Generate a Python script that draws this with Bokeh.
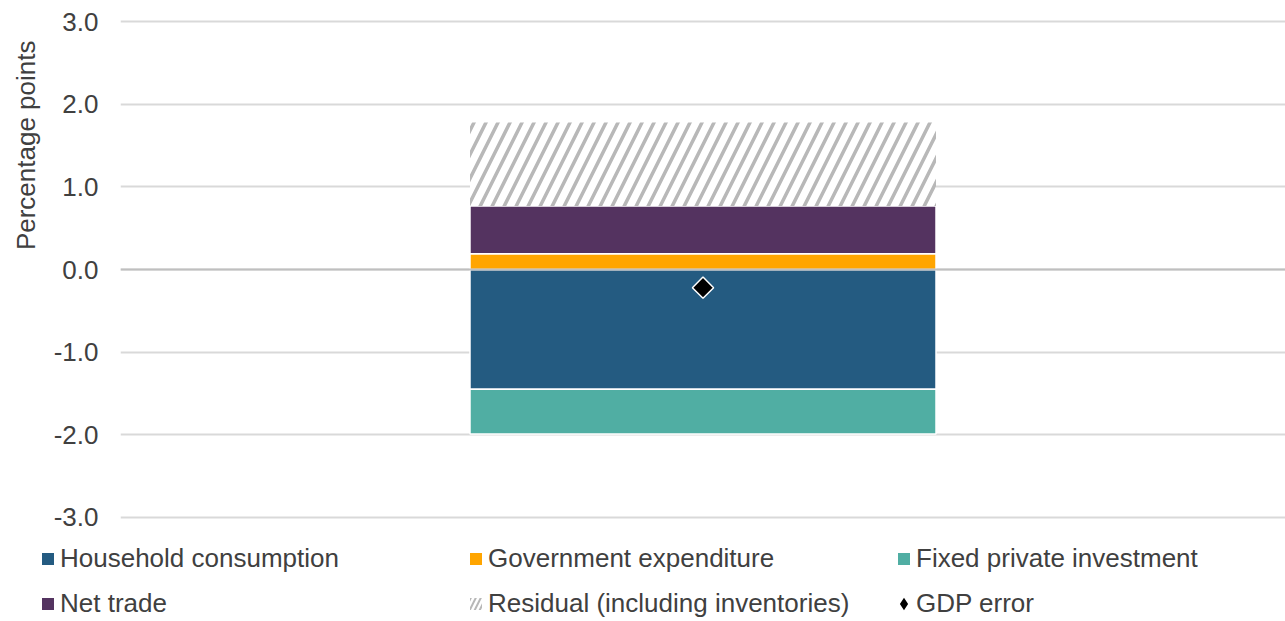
import math
from bokeh.plotting import figure
from bokeh.layouts import column
from bokeh.models import (Range1d, FactorRange, Legend, LegendItem, FixedTicker,
                          NumeralTickFormatter, Span, Title)
from bokeh.embed import file_html
from bokeh.resources import INLINE

# ---- data ----
category = ["Q"]
household = [-1.45]
government = [0.19]
fixed_investment = [-0.54]
net_trade = [0.58]
residual = [1.01]
gdp_error = [-0.22]
y_ticks = [-3, -2, -1, 0, 1, 2, 3]

FONT = "Liberation Sans"
TXT = "#404040"
C_HH = "#245b81"
C_FX = "#50aea3"
C_GOV = "#ffa500"
C_NET = "#543360"
C_HATCH = "#b8b8b8"

p = figure(width=1285, height=540,
           x_range=FactorRange(factors=category, range_padding=0),
           y_range=Range1d(-3.05, 3.05),
           output_backend="svg", toolbar_location=None,
           min_border_left=120, min_border_right=0,
           min_border_top=17, min_border_bottom=19)
p.outline_line_color = None
p.frame_align = False

# stacks
gov_b = [0.0]
gov_t = [government[0]]
net_b = gov_t
net_t = [government[0] + net_trade[0]]
res_b = net_t
res_t = [net_t[0] + residual[0]]
hh_b = [0.0]
hh_t = [household[0]]
fx_b = hh_t
fx_t = [household[0] + fixed_investment[0]]

W = 0.4
p.vbar(x=category, bottom=hh_b, top=hh_t, width=W, fill_color=C_HH,
       line_color="white", line_width=1.5)
p.vbar(x=category, bottom=fx_b, top=fx_t, width=W, fill_color=C_FX,
       line_color="white", line_width=1.5)
p.vbar(x=category, bottom=gov_b, top=gov_t, width=W, fill_color=C_GOV,
       line_color="white", line_width=1.5)
p.vbar(x=category, bottom=net_b, top=net_t, width=W, fill_color=C_NET,
       line_color="white", line_width=1.5)
p.vbar(x=category, bottom=res_b, top=res_t, width=W, line_color=None,
       fill_color="white", hatch_pattern="/", hatch_color=C_HATCH,
       hatch_weight=3.5, hatch_scale=24)

p.add_layout(Span(location=0, dimension="width", line_color="#bfbfbf", line_width=2))

p.scatter(x=category, y=gdp_error, marker="square", size=15, angle=math.pi / 4,
          fill_color="black", line_color="white", line_width=1.5)

# axes / grid
p.xaxis.visible = False
p.xgrid.grid_line_color = None
p.ygrid.grid_line_color = "#d9d9d9"
p.ygrid.grid_line_width = 2
ax = p.yaxis[0]
ax.ticker = FixedTicker(ticks=y_ticks)
ax.formatter = NumeralTickFormatter(format="0.0")
ax.axis_line_color = None
ax.major_tick_line_color = None
ax.minor_tick_line_color = None
ax.major_label_standoff = 16
ax.major_label_text_font = FONT
ax.major_label_text_font_size = "26px"
ax.major_label_text_color = TXT

ytitle = Title(text="Percentage points", align="right", offset=23, standoff=18,
               vertical_align="middle",
               text_font=FONT, text_font_size="26px", text_font_style="normal",
               text_color=TXT)
p.add_layout(ytitle, "left")

# ---- legend (separate strip below the chart) ----
lg = figure(width=1285, height=81, x_range=Range1d(0, 1), y_range=Range1d(0, 1),
            output_backend="svg", toolbar_location=None,
            min_border_left=0, min_border_right=0, min_border_top=0, min_border_bottom=0)
lg.outline_line_color = None
lg.frame_align = False
lg.axis.visible = False
lg.grid.visible = False
z = [0]
l_hh = lg.vbar(x=z, top=z, width=0, fill_color=C_HH, line_color=None, visible=False)
l_gov = lg.vbar(x=z, top=z, width=0, fill_color=C_GOV, line_color=None, visible=False)
l_fx = lg.vbar(x=z, top=z, width=0, fill_color=C_FX, line_color=None, visible=False)
l_net = lg.vbar(x=z, top=z, width=0, fill_color=C_NET, line_color=None, visible=False)
l_res = lg.vbar(x=z, top=z, width=0, line_color=None, visible=False,
                fill_color="white", hatch_pattern="/", hatch_color=C_HATCH,
                hatch_weight=2, hatch_scale=10)
l_gdp = lg.scatter(x=z, y=z, marker="diamond", size=0,
                   fill_color="black", line_color="black", line_width=3.5,
                   line_join="miter", visible=False)

legend = Legend(items=[
    LegendItem(label="Household consumption", renderers=[l_hh]),
    LegendItem(label="Government expenditure", renderers=[l_gov]),
    LegendItem(label="Fixed private investment", renderers=[l_fx]),
    LegendItem(label="Net trade", renderers=[l_net]),
    LegendItem(label="Residual (including inventories)", renderers=[l_res]),
    LegendItem(label="GDP error", renderers=[l_gdp]),
], orientation="horizontal", ncols=3, location=(40, 2))
legend.padding = 0
legend.margin = 0
legend.spacing = 14
legend.glyph_width = 15
legend.glyph_height = 15
legend.label_standoff = 5
legend.label_width = 394
legend.label_height = 28
legend.label_text_font = FONT
legend.label_text_font_size = "26px"
legend.label_text_color = TXT
legend.border_line_color = None
legend.background_fill_alpha = 0
legend.inactive_fill_alpha = 0
lg.add_layout(legend, "center")

layout = column(p, lg, spacing=0)
open("out.html", "w").write(file_html(layout, INLINE))
